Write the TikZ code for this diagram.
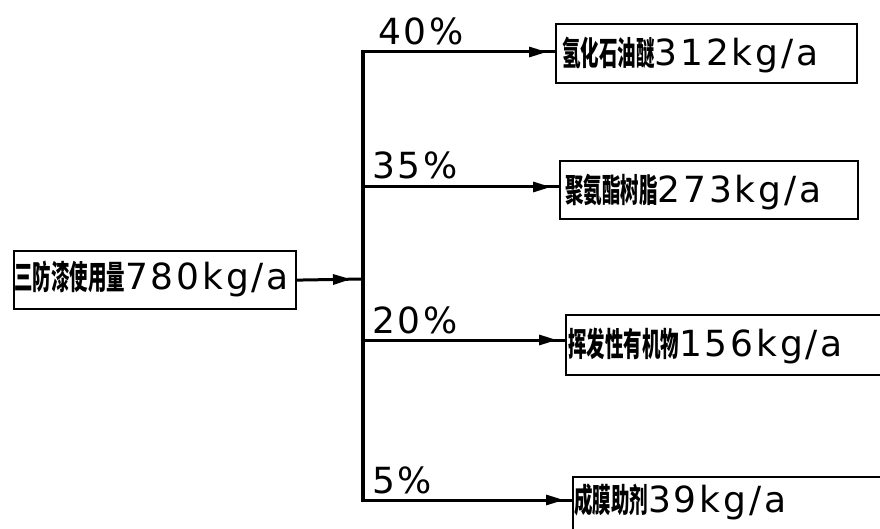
\documentclass[tikz,border=0pt]{standalone}
\usepackage{fontspec}
\usepackage{graphicx}
\usetikzlibrary{arrows.meta,decorations.markings}
\newfontfamily\numfont[LetterSpace=8]{DejaVu Sans}
\newfontfamily\cjkfont[FakeStretch=0.56]{Noto Sans CJK SC}
\newcommand\flowlabel[2]{{\fontsize{33}{33}\selectfont\cjkfont\bfseries #1}{\numfont #2}}
\tikzset{
  box/.style={draw, line width=2.2pt, inner sep=0pt, anchor=north west},
  txt/.style={anchor=base west, inner sep=0pt, font=\fontsize{36}{36}\selectfont},
  pct/.style={anchor=base west, inner sep=0pt, font=\fontsize{36}{36}\selectfont\numfont},
  link/.style={line width=3.2pt},
  flow/.style={line width=3pt, postaction=decorate,
    decoration={markings, mark=at position -8pt with {\arrow{Triangle[length=18pt,width=10pt]}}}},
  flowmain/.style={line width=3pt, postaction=decorate,
    decoration={markings, mark=at position -12pt with {\arrow{Triangle[length=18pt,width=10pt]}}}}
}
\begin{document}
\begin{tikzpicture}[x=1pt,y=-1pt]
\useasboundingbox (0,0) rectangle (880,529);
\fill[white] (0,0) rectangle (880,529);
\clip (0,0) rectangle (880,529);
% boxes
\node[box, minimum width=282pt, minimum height=58pt] (m) at (13,250) {};
\node[box, minimum width=301pt, minimum height=59pt] (b1) at (555,23) {};
\node[box, minimum width=298pt, minimum height=58pt] (b2) at (559,160) {};
\node[box, minimum width=340pt, minimum height=60pt] (b3) at (565,314) {};
\node[box, minimum width=340pt, minimum height=80pt] (b4) at (572,476) {};
% texts
\node[txt] (tm) at (14,289) {\flowlabel{三防漆使用量}{780kg/a}};
\node[txt] (t1) at (562,66) {\flowlabel{氢化石油醚}{312kg/a}};
\node[txt] (t2) at (565,203) {\flowlabel{聚氨酯树脂}{273kg/a}};
\node[txt] (t3) at (568,356) {\flowlabel{挥发性有机物}{156kg/a}};
\node[txt] (t4) at (574,512) {\flowlabel{成膜助剂}{39kg/a}};
% junctions
\coordinate (j0) at (363,279);
\coordinate (j1) at (363,52);
\coordinate (j2) at (363,187);
\coordinate (j3) at (363,340);
\coordinate (j4) at (363,500);
% percentages
\node[pct] (p1) at (378,45) {40\%};
\node[pct] (p2) at (372,179) {35\%};
\node[pct] (p3) at (372,333) {20\%};
\node[pct] (p4) at (372,493) {5\%};
% connectors
\draw[link, line cap=rect] (j1) -- (j4);
\draw[flowmain] (m.east) -- (j0);
\draw[flow] (j1) -- (j1 -| b1.west);
\draw[flow] (j2) -- (j2 -| b2.west);
\draw[flow] (j3) -- (j3 -| b3.west);
\draw[flow] (j4) -- (j4 -| b4.west);
\end{tikzpicture}
\end{document}
